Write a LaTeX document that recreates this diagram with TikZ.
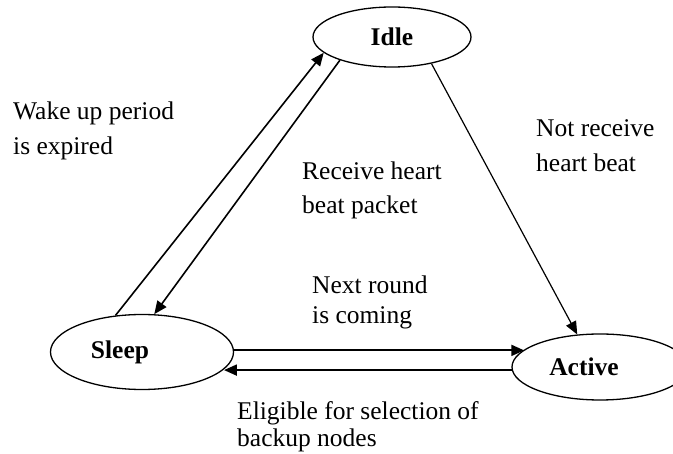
\documentclass[tikz,border=0pt]{standalone}
\usepackage{fontspec}
\setmainfont{Liberation Serif}
\usetikzlibrary{shapes.geometric,arrows.meta}
\begin{document}
\begin{tikzpicture}[x=1pt,y=-1pt,
  state/.style={draw, ellipse, line width=1.3pt, inner sep=0pt, font=\fontsize{25.5pt}{29pt}\selectfont\bfseries},
  lbl/.style={anchor=west, align=left, inner sep=0pt, font=\fontsize{25.5pt}{#1}\selectfont},
  arr/.style={-{Triangle[length=13pt,width=11pt]}}]
\useasboundingbox (0,0) rectangle (673,454);
\fill[white] (0,0) rectangle (673,454);
\node[state, minimum width=158pt, minimum height=60pt] (idle) at (392,37) {Idle};
\node[state, minimum width=183pt, minimum height=75pt] (sleep) at (142,352) {\hspace*{-44pt}Sleep};
\node[state, minimum width=176pt, minimum height=66pt] (active) at (600,367) {\hspace*{-32pt}Active};
\draw[arr, line width=1.6pt] (sleep.126) -- (idle.193);
\draw[arr, line width=1.6pt] (idle.204) -- (sleep.72);
\draw[arr, line width=2pt] (sleep.1) -- (sleep.1 -| active.167);
\draw[arr, line width=2pt] (active.182) -- (active.182 -| sleep.348);
\draw[arr, line width=1.2pt] (idle.326) -- (active.125);
\node[lbl=35pt] (wake) at (13,130.5) {Wake up period\\is expired};
\node[lbl=34pt] (recv) at (302,190) {Receive heart\\beat packet};
\node[lbl=30pt] (next) at (312,302) {Next round\\is coming};
\node[lbl=35pt] (notrecv) at (536,145.5) {Not receive\\heart beat};
\node[lbl=27pt] (elig) at (237,426.5) {Eligible for selection of\\backup nodes};
\end{tikzpicture}
\end{document}
